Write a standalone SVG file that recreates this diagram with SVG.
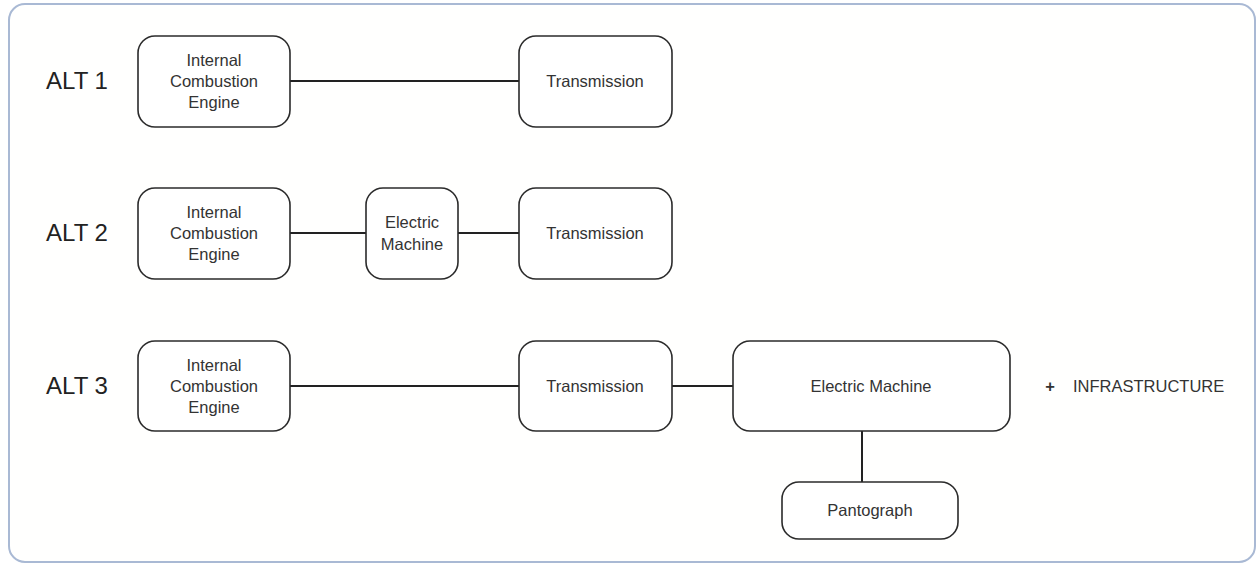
<svg xmlns="http://www.w3.org/2000/svg" width="1257" height="566" viewBox="0 0 1257 566">
  <style>
    .frame { fill: #fffffe; stroke: #a9b9d4; stroke-width: 2; }
    .box { fill: #ffffff; stroke: #2b2b2b; stroke-width: 1.6; }
    .wire { stroke: #222222; stroke-width: 2; fill: none; }
    .lbl { font-family: "Liberation Sans", Arial, sans-serif; font-size: 16.5px; fill: #333333; text-anchor: middle; }
    .alt { font-family: "Liberation Sans", Arial, sans-serif; font-size: 24px; fill: #222222; text-anchor: middle; }
    .side { font-family: "Liberation Sans", Arial, sans-serif; font-size: 16.5px; fill: #333333; }
  </style>

  <!-- outer panel -->
  <rect class="frame" x="9" y="4" width="1246" height="558" rx="16"/>

  <!-- row labels -->
  <text class="alt" x="77" y="89">ALT 1</text>
  <text class="alt" x="77" y="241">ALT 2</text>
  <text class="alt" x="77" y="394">ALT 3</text>

  <!-- connectors -->
  <g id="connectors">
    <line class="wire" x1="290" y1="81" x2="519" y2="81"/>
    <line class="wire" x1="290" y1="233" x2="366" y2="233"/>
    <line class="wire" x1="458" y1="233" x2="519" y2="233"/>
    <line class="wire" x1="290" y1="386" x2="519" y2="386"/>
    <line class="wire" x1="672" y1="386" x2="733" y2="386"/>
    <line class="wire" x1="862" y1="431" x2="862" y2="482"/>
  </g>

  <!-- ALT 1 -->
  <g id="alt1-ice">
    <rect class="box" x="138" y="36" width="152" height="91" rx="17"/>
    <text class="lbl" x="214" y="66">Internal</text>
    <text class="lbl" x="214" y="87">Combustion</text>
    <text class="lbl" x="214" y="108">Engine</text>
  </g>
  <g id="alt1-transmission">
    <rect class="box" x="519" y="36" width="153" height="91" rx="17"/>
    <text class="lbl" x="595" y="87">Transmission</text>
  </g>

  <!-- ALT 2 -->
  <g id="alt2-ice">
    <rect class="box" x="138" y="188" width="152" height="91" rx="17"/>
    <text class="lbl" x="214" y="218">Internal</text>
    <text class="lbl" x="214" y="239">Combustion</text>
    <text class="lbl" x="214" y="260">Engine</text>
  </g>
  <g id="alt2-electric-machine">
    <rect class="box" x="366" y="188" width="92" height="91" rx="17"/>
    <text class="lbl" x="412" y="228">Electric</text>
    <text class="lbl" x="412" y="250">Machine</text>
  </g>
  <g id="alt2-transmission">
    <rect class="box" x="519" y="188" width="153" height="91" rx="17"/>
    <text class="lbl" x="595" y="239">Transmission</text>
  </g>

  <!-- ALT 3 -->
  <g id="alt3-ice">
    <rect class="box" x="138" y="341" width="152" height="90" rx="17"/>
    <text class="lbl" x="214" y="371">Internal</text>
    <text class="lbl" x="214" y="392">Combustion</text>
    <text class="lbl" x="214" y="413">Engine</text>
  </g>
  <g id="alt3-transmission">
    <rect class="box" x="519" y="341" width="153" height="90" rx="17"/>
    <text class="lbl" x="595" y="392">Transmission</text>
  </g>
  <g id="alt3-electric-machine">
    <rect class="box" x="733" y="341" width="277" height="90" rx="17"/>
    <text class="lbl" x="871" y="392">Electric Machine</text>
  </g>
  <g id="alt3-pantograph">
    <rect class="box" x="782" y="482" width="176" height="57" rx="17"/>
    <text class="lbl" x="870" y="516">Pantograph</text>
  </g>

  <!-- extra requirement -->
  <g id="infrastructure">
    <text class="side" x="1050" y="392" text-anchor="middle" font-weight="bold">+</text>
    <text class="side" x="1073" y="392">INFRASTRUCTURE</text>
  </g>
</svg>
